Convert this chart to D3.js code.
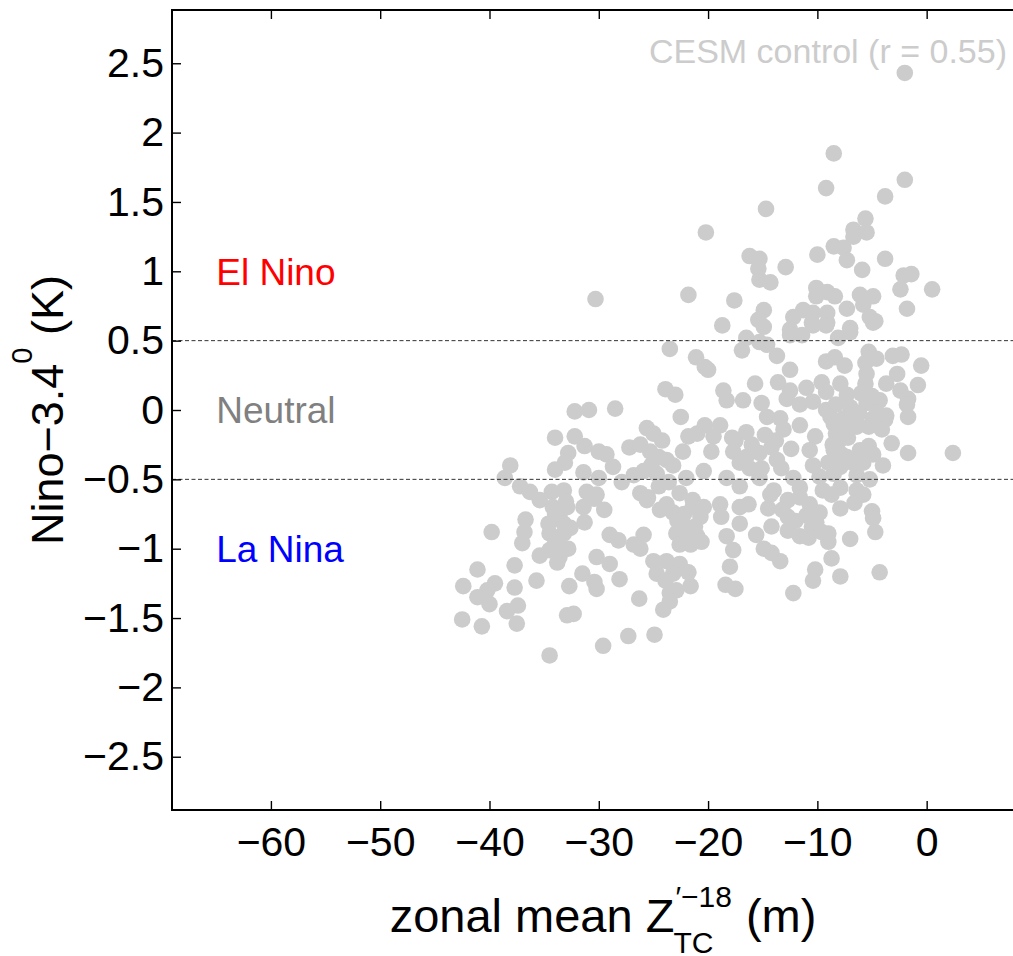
<!DOCTYPE html>
<html>
<head>
<meta charset="utf-8">
<script src="https://cdn.jsdelivr.net/npm/d3@7"></script>
<style>
  body { margin: 0; background: #fff; }
  text { font-family: "Liberation Sans", Arial, Helvetica, sans-serif; }
</style>
</head>
<body>
<div id="chart"></div>
<script>
// zonal mean Z'TC (m) and Nino-3.4 (K), one dot per year of the control run
var zonalMean = [
  -2.0, -8.5, -2.0, -9.2, -3.8, -14.7, -20.2, -5.6, -6.7, -5.5, -6.7, -8.5, -7.6, -7.3, -10.0, -3.8, -5.9,
  -16.2, -15.3, -15.4, -12.9, -15.3, -14.3, -2.1, -1.4, -2.4, 0.5, -1.8, -30.3, -21.8, -17.6, -10.1, -9.1,
  -8.4, -10.1, -6.1, -4.9, -5.8, -7.3, -5.2, -4.7, -14.9, -15.4, -14.9, -18.7, -12.2, -11.3, -10.4, -9.1,
  -10.5, -9.1, -12.5, -7.0,
  -23.5, -21.1, -20.3, -23.9, -23.0, -22.5, -32.2, -30.9, -28.5, -25.6, -25.0, -34.0, -32.2, -32.8, -31.3,
  -30.0, -29.3, -28.7, -34.0, -33.1, -31.4, -30.0, -38.1, -38.6, -27.2, -26.2, -25.3, -24.5, -23.8, -23.2,
  -24.7, -25.9, -26.8, -27.9, -24.5, -22.0, -22.3, -21.8, -21.0, -20.3, -20.4, -37.2, -36.3, -34.3, -33.2,
  -31.1, -30.2, -26.2, -25.5, -22.6, -21.4,
  -16.9, -16.5, -15.3, -14.6, -13.7, -12.5, -11.4, -10.4, -9.2, -8.1, -7.0, -4.9, -20.0, -12.5, -9.2, -8.4,
  -7.5, -5.3, -4.6, -5.6, -3.1, -2.3, -0.5, -2.7, -0.8, -5.5, -5.6, -3.7, -2.4, -1.7, -1.8, -1.7, -9.6, -7.9,
  -7.3, -9.2, -11.0, -12.5, -13.6, -15.7, -18.6, -18.3, -16.8, -15.1, -12.8, -11.6, -10.4, -9.2, -8.3, -7.0,
  -5.5, -4.3, -3.7, -4.9, -6.4, -7.6, -8.5, -14.6, -13.4, -11.6, -18.9, -19.5, -17.5, -16.5, -14.8, -13.1,
  -10.2, -8.3, -6.4, -5.3, -3.8, -4.1, -3.2, -1.7, 2.4, -19.7, -17.7, -16.5, -15.3, -13.7, -12.4, -10.7,
  -8.5, -7.3, -6.1, -5.3, -4.9, -4.0, -5.8, -7.9, -10.4, -13.3, -15.1, -17.1, -18.3, -15.3, -12.2, -9.8,
  -8.5, -6.4, -5.2, -17.1, -14.0, -11.6, -9.5, -7.9, -6.4,
  -39.8, -36.7, -36.8, -37.0, -35.4, -34.2, -33.6, -34.5, -33.2, -34.0, -32.8, -35.4, -33.6, -34.5, -33.2,
  -32.9, -31.4, -31.3, -30.4, -29.5, -29.0, -28.2, -26.8, -25.9, -26.2, -30.2, -29.0, -37.7, -41.1, -42.4,
  -39.5, -40.2, -41.1, -40.0, -37.7, -35.7, -38.4, -37.4, -37.5, -42.5, -40.7, -32.7, -31.5, -30.4, -30.2,
  -28.1, -26.3, -32.9, -32.3, -29.6, -27.3, -24.9, -34.5, -25.0, -23.8, -22.6, -24.7, -23.2, -21.8, -23.9,
  -21.6, -23.5, -22.9, -23.5, -24.1, -25.6, -24.4, -23.2, -22.3, -22.9, -22.0, -21.0, -22.6, -21.4, -20.7,
  -20.4, -18.9, -18.8, -17.1, -16.3, -17.1, -18.3, -17.7, -20.6, -18.0, -18.4, -17.5, -15.6, -14.9, -14.2,
  -13.4, -14.2, -14.5, -14.3, -12.7, -12.7, -11.6, -12.7, -11.6, -10.7, -9.8, -10.5, -9.0, -9.0, -10.1,
  -7.9, -6.6, -5.8, -5.0, -4.9, -4.7, -7.0, -8.7, -10.2, -10.4, -7.9, -4.3, -12.2, -8.7,
  // dots hidden inside the densest clumps
  -8.8, -8.0, -8.6, -7.2, -7.8, -9.0, -6.8, -7.5, -34.0, -33.0, -34.6, -33.6, -32.6, -33.8,
  -23.8, -22.2, -21.2, -21.6, -22.8, -13.2, -12.0, -11.0, -10.8, -9.6, -17.8, -16.0, -14.2, -16.2, -13.8,
  -6.0, -5.0, -6.2, -4.5, -24.2, -25.2, -23.6
];

var nino34 = [
  2.43, 1.85, 1.66, 1.60, 1.54, 1.45, 1.28, 1.38, 1.30, 1.28, 1.25, 1.18, 1.17, 1.08, 1.12, 1.09, 1.01,
  1.11, 1.09, 1.02, 1.03, 0.94, 0.92, 0.97, 0.98, 0.87, 0.87, 0.73, 0.80, 0.83, 0.79, 0.88, 0.85,
  0.82, 0.82, 0.83, 0.82, 0.76, 0.73, 0.67, 0.64, 0.72, 0.65, 0.60, 0.61, 0.67, 0.72, 0.70, 0.70,
  0.63, 0.63, 0.58, 0.59,
  0.44, 0.38, 0.31, 0.15, 0.11, -0.05, -0.01, 0.00, 0.01, -0.13, -0.17, -0.20, -0.19, -0.31, -0.26,
  -0.30, -0.32, -0.41, -0.43, -0.38, -0.45, -0.49, -0.40, -0.49, -0.27, -0.25, -0.30, -0.34, -0.36, -0.40,
  -0.46, -0.44, -0.47, -0.52, -0.55, -0.49, -0.30, -0.19, -0.17, -0.11, -0.44, -0.55, -0.59, -0.59, -0.58,
  -0.59, -0.61, -0.60, -0.63, -0.60, -0.65,
  0.43, 0.52, 0.49, 0.47, 0.39, 0.54, 0.54, 0.61, 0.61, 0.52, 0.56, 0.63, 0.29, 0.29, 0.35, 0.38,
  0.32, 0.42, 0.37, 0.34, 0.39, 0.40, 0.32, 0.26, 0.18, 0.26, 0.19, 0.19, 0.14, 0.08, 0.04, -0.05, 0.20, 0.19,
  0.11, 0.13, 0.16, 0.14, 0.20, 0.19, 0.14, 0.07, 0.07, 0.05, 0.08, 0.04, 0.06, 0.00, 0.04, 0.02,
  0.05, 0.07, -0.04, -0.06, -0.05, -0.06, -0.10, -0.05, -0.06, -0.11, -0.11, -0.19, -0.22, -0.16, -0.18, -0.14,
  -0.19, -0.17, -0.12, -0.12, -0.07, -0.14, -0.24, -0.31, -0.31, -0.30, -0.30, -0.34, -0.31, -0.36, -0.28, -0.29,
  -0.29, -0.34, -0.29, -0.26, -0.32, -0.40, -0.38, -0.41, -0.40, -0.42, -0.42, -0.38, -0.49, -0.49, -0.49, -0.48,
  -0.46, -0.47, -0.50, -0.55, -0.58, -0.56, -0.58, -0.56, -0.58,
  -0.88, -0.79, -0.88, -0.96, -0.65, -0.70, -0.77, -0.89, -0.89, -0.96, -1.00, -1.05, -1.06, -1.01, -0.82,
  -0.70, -0.70, -0.81, -0.64, -0.72, -0.90, -0.94, -0.97, -0.90, -1.00, -1.06, -1.11, -1.12, -1.15, -1.27,
  -1.25, -1.30, -1.35, -1.40, -1.28, -1.23, -1.45, -1.41, -1.54, -1.51, -1.56, -1.27, -1.18, -1.24, -1.29,
  -1.22, -1.36, -1.48, -1.47, -1.70, -1.63, -1.62, -1.77, -1.09, -1.09, -1.11, -1.18, -1.18, -1.17, -1.23,
  -1.27, -1.32, -1.30, -1.38, -1.44, -0.65, -0.72, -0.74, -0.82, -0.89, -0.91, -0.91, -0.97, -0.70, -0.77,
  -0.70, -0.68, -0.77, -0.70, -0.68, -0.82, -0.91, -1.01, -0.95, -1.13, -1.26, -1.29, -0.90, -1.00, -1.03,
  -1.09, -0.84, -0.71, -0.61, -0.77, -0.87, -0.91, -0.65, -0.63, -0.68, -0.74, -0.84, -0.89, -0.95, -0.81,
  -0.71, -0.67, -0.61, -0.73, -0.78, -0.88, -0.93, -1.07, -1.15, -1.23, -1.20, -1.17, -1.32, -0.61,
  -0.05, -0.22, -0.25, -0.20, -0.32, -0.38, -0.38, -0.10, -0.75, -0.66, -0.82, -0.93, -0.85, -1.10,
  -0.68, -0.75, -0.84, -0.97, -0.80, -0.72, -0.80, -0.76, -0.92, -0.88, -0.20, -0.25, -0.27, -0.42, -0.22,
  0.12, 0.10, -0.02, -0.02, -0.22, -0.40, -0.52
];

var xTicks = [-60, -50, -40, -30, -20, -10, 0];
var yTicks = [-2.5, -2, -1.5, -1, -0.5, 0, 0.5, 1, 1.5, 2, 2.5];
var thresholds = [0.5, -0.5];
var phaseNames = ["El Nino", "Neutral", "La Nina"];
var phaseY = [1, 0, -1];
var phaseColors = ["#ff0000", "#808080", "#0000ff"];

var W = 1013, H = 956;
var mLeft = 172, mTop = 10, mRight = 1013, mBottom = 810;

var svg = d3.select("#chart").append("svg")
    .attr("width", W)
    .attr("height", H);

var x = d3.scaleLinear().domain([-69.05, 7.9]).range([mLeft, mRight]);
var y = d3.scaleLinear().domain([-2.884, 2.884]).range([mBottom, mTop]);

var fmt = function(d) { return String(d).replace("-", "\u2212"); };

var data = zonalMean.map(function(v, i) { return {x: v, y: nino34[i]}; });

// dots
svg.append("g")
   .selectAll("circle")
   .data(data)
   .enter().append("circle")
   .attr("cx", function(d) { return x(d.x); })
   .attr("cy", function(d) { return y(d.y); })
   .attr("r", 8.3)
   .attr("fill", "#cccccc");

// ENSO thresholds
svg.append("g")
   .selectAll("line")
   .data(thresholds)
   .enter().append("line")
   .attr("x1", mLeft)
   .attr("x2", mRight)
   .attr("y1", function(d) { return y(d); })
   .attr("y2", function(d) { return y(d); })
   .attr("stroke", "#333")
   .attr("stroke-width", 1)
   .attr("stroke-dasharray", "4,2.5");

// axes
var gx = svg.append("g")
   .attr("transform", "translate(0," + mBottom + ")")
   .call(d3.axisBottom(x).tickValues(xTicks).tickFormat(fmt).tickSize(-9).tickPadding(17));

var gy = svg.append("g")
   .attr("transform", "translate(" + mLeft + ",0)")
   .call(d3.axisLeft(y).tickValues(yTicks).tickFormat(fmt).tickSize(-9).tickPadding(8));

var gt = svg.append("g")
   .attr("transform", "translate(0," + mTop + ")")
   .call(d3.axisTop(x).tickValues(xTicks).tickFormat("").tickSize(-9));

[gx, gy, gt].forEach(function(g) {
  g.select(".domain").remove();
  g.selectAll(".tick line").attr("stroke", "#000").attr("stroke-width", 1.4);
  g.selectAll(".tick text")
   .attr("fill", "#000")
   .attr("font-size", "41px")
   .attr("font-family", "Liberation Sans, Arial, sans-serif");
});

// frame
svg.append("rect")
   .attr("x", mLeft)
   .attr("y", mTop)
   .attr("width", mRight - mLeft + 4)
   .attr("height", mBottom - mTop)
   .attr("fill", "none")
   .attr("stroke", "#000")
   .attr("stroke-width", 2);

// phase labels
svg.append("g")
   .selectAll("text")
   .data(phaseNames)
   .enter().append("text")
   .attr("x", x(-65))
   .attr("y", function(d, i) { return y(phaseY[i]); })
   .attr("dy", "0.36em")
   .attr("font-size", "37px")
   .attr("fill", function(d, i) { return phaseColors[i]; })
   .text(function(d) { return d; });

// run label
svg.append("text")
   .attr("x", 1007)
   .attr("y", y(2.5))
   .attr("text-anchor", "end")
   .attr("font-size", "34px")
   .attr("fill", "#cccccc")
   .text("CESM control (r = 0.55)");

// y label
var yl = svg.append("text")
   .attr("transform", "translate(63," + ((mTop + mBottom) / 2) + ") rotate(-90)")
   .attr("text-anchor", "middle")
   .attr("font-size", "45px")
   .attr("fill", "#000");
yl.append("tspan").text("Nino\u22123.4");
yl.append("tspan").attr("font-size", "29px").attr("dy", -31).text("0");
yl.append("tspan").attr("dy", 31).text("\u00a0(K)");

// x label: zonal mean Z'^{-18}_{TC} (m)
var xg = svg.append("g");
var t1 = xg.append("text").attr("x", 0).attr("y", 932).attr("font-size", "47px").text("zonal mean Z");
var w1 = t1.node().getComputedTextLength();
var tsup = xg.append("text").attr("x", w1 + 1).attr("y", 907).attr("font-size", "30px").text("\u2032\u221218");
var tsub = xg.append("text").attr("x", w1 - 1).attr("y", 953).attr("font-size", "30px").text("TC");
var ws = Math.max(tsup.node().getComputedTextLength() + 1, tsub.node().getComputedTextLength() - 1);
var t3 = xg.append("text").attr("x", w1 + ws + 14).attr("y", 932).attr("font-size", "47px").text("(m)");
var total = w1 + ws + 14 + t3.node().getComputedTextLength();
xg.attr("transform", "translate(" + (603 - total / 2) + ",0)");
</script>
</body>
</html>
